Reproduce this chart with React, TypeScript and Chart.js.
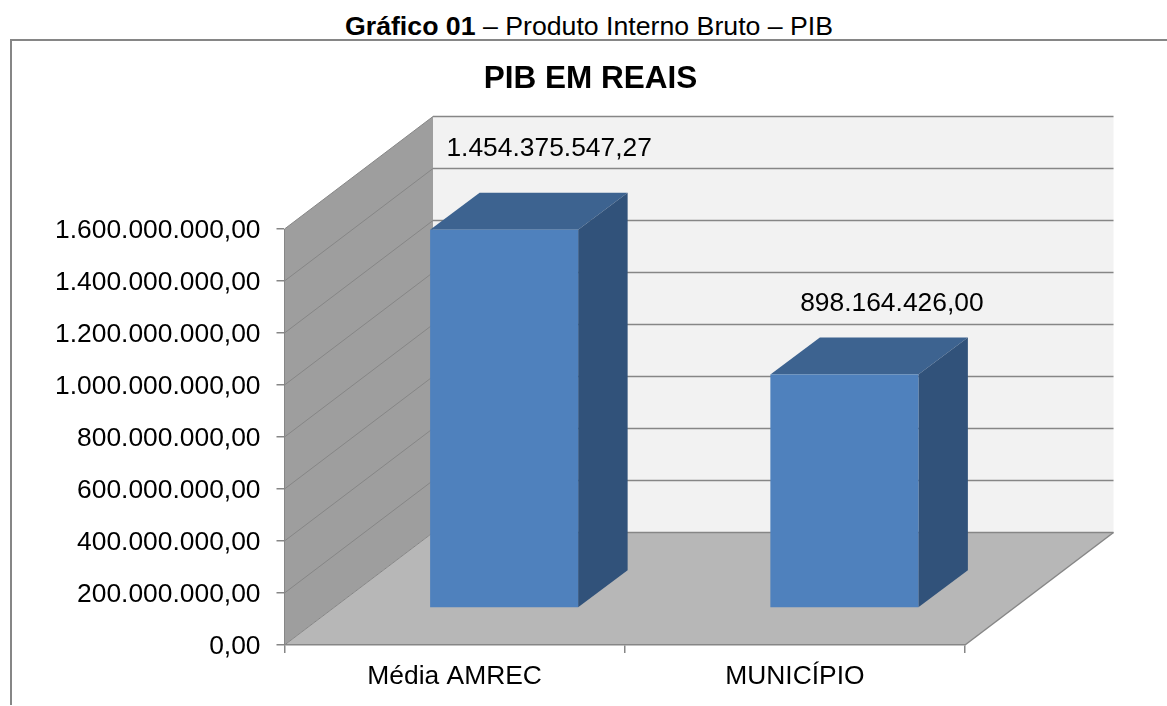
import React, { useEffect, useRef } from "react";
import { Chart, registerables } from "chart.js";

Chart.register(...registerables);

const categories = ["Média AMREC", "MUNICÍPIO"];
const pibValues = [1454375547.27, 898164426.0];
const valueLabels = ["1.454.375.547,27", "898.164.426,00"];
const yMin = 0;
const yMax = 1600000000;
const yStep = 200000000;

const FONT = '"Liberation Sans", Arial, sans-serif';
const LINE = "#868686";
const WALL_DX = 148.5;
const WALL_DY = -112.5;
const BAR_DX = 49.5;
const BAR_DY = -37;
const LABEL_OFFSETS = [
  [94.5, -118],
  [97, -107.5],
];

const formatTick = (v: number) =>
  new Intl.NumberFormat("pt-BR", { minimumFractionDigits: 2, maximumFractionDigits: 2 }).format(v);

function poly(ctx: CanvasRenderingContext2D, pts: number[][], fill?: string) {
  ctx.beginPath();
  pts.forEach(([x, y], i) => (i ? ctx.lineTo(x, y) : ctx.moveTo(x, y)));
  ctx.closePath();
  if (fill) {
    ctx.fillStyle = fill;
    ctx.fill();
  }
}

function line(ctx: CanvasRenderingContext2D, x1: number, y1: number, x2: number, y2: number, w: number, c: string) {
  ctx.beginPath();
  ctx.moveTo(x1, y1);
  ctx.lineTo(x2, y2);
  ctx.lineWidth = w;
  ctx.strokeStyle = c;
  ctx.stroke();
}

const box3d = {
  id: "box3d",
  beforeDraw(chart: any) {
    const { ctx, chartArea: a, scales } = chart;
    const { left: l, right: r, top: t, bottom: b } = a;
    ctx.save();
    poly(ctx, [[l + WALL_DX, t + WALL_DY], [r + WALL_DX, t + WALL_DY], [r + WALL_DX, b + WALL_DY], [l + WALL_DX, b + WALL_DY]], "#f2f2f2");
    poly(ctx, [[l, t], [l + WALL_DX, t + WALL_DY], [l + WALL_DX, b + WALL_DY], [l, b]], "#9e9e9e");
    poly(ctx, [[l, b], [r, b], [r + WALL_DX, b + WALL_DY], [l + WALL_DX, b + WALL_DY]], "#b7b7b7");
    for (const tick of scales.y.ticks) {
      const y = scales.y.getPixelForValue(tick.value);
      line(ctx, l, y, l + WALL_DX, y + WALL_DY, 1, LINE);
      line(ctx, l + WALL_DX, y + WALL_DY, r + WALL_DX, y + WALL_DY, 1.5, LINE);
    }
    line(ctx, r, b, r + WALL_DX, b + WALL_DY, 1.5, LINE);
    ctx.restore();
  },
  beforeDatasetDraw(chart: any, args: any) {
    const { ctx } = chart;
    const meta = chart.getDatasetMeta(args.index);
    ctx.save();
    ctx.translate(BAR_DX, BAR_DY);
    meta.data.forEach((bar: any) => {
      const hw = bar.width / 2;
      const xl = bar.x - hw;
      const xr = bar.x + hw;
      poly(ctx, [[xl, bar.y], [xl + BAR_DX, bar.y + BAR_DY], [xr + BAR_DX, bar.y + BAR_DY], [xr, bar.y]], "#3d6390");
      poly(ctx, [[xr, bar.y], [xr + BAR_DX, bar.y + BAR_DY], [xr + BAR_DX, bar.base + BAR_DY], [xr, bar.base]], "#31527a");
    });
  },
  afterDatasetDraw(chart: any) {
    chart.ctx.restore();
  },
  afterDatasetsDraw(chart: any) {
    const { ctx } = chart;
    const meta = chart.getDatasetMeta(0);
    ctx.save();
    ctx.font = `26.4px ${FONT}`;
    ctx.fillStyle = "#000";
    ctx.textAlign = "center";
    ctx.textBaseline = "middle";
    meta.data.forEach((bar: any, i: number) => {
      ctx.fillText(valueLabels[i], bar.x + LABEL_OFFSETS[i][0], bar.y + LABEL_OFFSETS[i][1]);
    });
    ctx.restore();
  },
};

export default function App() {
  const ref = useRef<HTMLCanvasElement>(null);
  useEffect(() => {
    document.body.style.margin = "0";
    const chart = new Chart(ref.current!, {
      type: "bar",
      data: {
        labels: categories,
        datasets: [
          {
            label: "PIB",
            data: pibValues,
            backgroundColor: "#4f81bd",
            barPercentage: 0.435,
            categoryPercentage: 1,
            clip: false,
          } as any,
        ],
      },
      plugins: [box3d],
      options: {
        responsive: false,
        animation: false,
        layout: { padding: { left: 14, right: 0, top: 0, bottom: 0 } },
        plugins: {
          legend: { display: false },
          tooltip: { enabled: false },
          title: {
            display: true,
            text: "PIB EM REAIS",
            color: "#000",
            font: { family: FONT, size: 31.5, weight: "bold", lineHeight: 1.2 },
            padding: { top: 60, bottom: 131.2 },
          },
        },
        scales: {
          x: {
            offset: true,
            grid: { display: true, offset: true, drawOnChartArea: false, drawTicks: true, tickLength: 8, color: LINE, lineWidth: 1.5 },
            border: { display: true, color: LINE, width: 1.5 },
            ticks: { color: "#000", font: { family: FONT, size: 26.4 }, padding: 8, maxRotation: 0 },
            afterFit: (s: any) => { s.height = 61; },
          },
          y: {
            min: yMin,
            max: yMax,
            grid: { display: true, drawOnChartArea: false, drawTicks: true, tickLength: 8, color: LINE, lineWidth: 1.5 },
            border: { display: true, color: LINE, width: 1 },
            ticks: { stepSize: yStep, color: "#000", font: { family: FONT, size: 26.4 }, padding: 16, labelOffset: 2, callback: (v: any) => formatTick(Number(v)) },
            afterFit: (s: any) => { s.width = 270.5; },
          },
          y2: {
            position: "right",
            min: yMin,
            max: yMax,
            grid: { display: false },
            border: { display: false },
            ticks: { display: false },
            afterFit: (s: any) => { s.width = 202; },
          },
        },
      } as any,
    });
    return () => chart.destroy();
  }, []);
  return (
    <div style={{ position: "relative", width: 1167, height: 706, overflow: "hidden", background: "#fff" }}>
      <div style={{ position: "absolute", left: 10, top: 39, right: 0, height: 666, borderTop: `2px solid ${LINE}`, borderLeft: `2px solid ${LINE}`, boxSizing: "border-box" }} />
      <div style={{ position: "absolute", left: 345, top: 11, whiteSpace: "nowrap", fontFamily: FONT, fontSize: 26.7, lineHeight: "30px", color: "#000" }}>
        <b>Gráfico 01</b> – Produto Interno Bruto – PIB
      </div>
      <canvas ref={ref} width={1167} height={706} style={{ position: "absolute", left: 0, top: 0, display: "block" }} />
    </div>
  );
}
